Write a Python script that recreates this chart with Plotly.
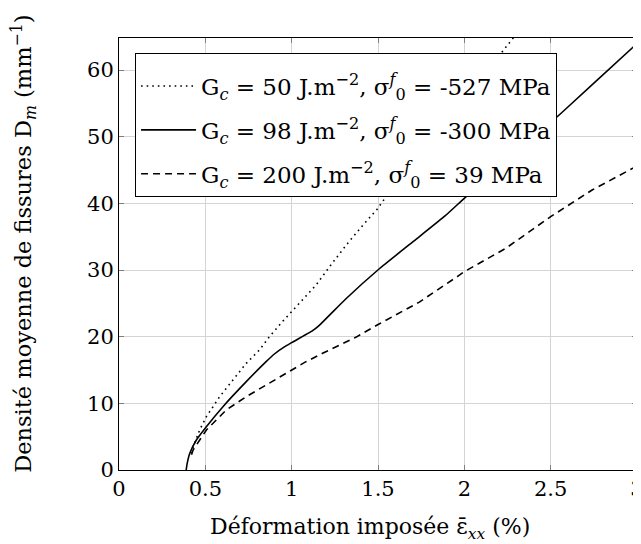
import plotly.graph_objects as go

# Data
x_dot = [0.415, 0.43, 0.467, 0.506, 0.583, 0.66, 0.737, 0.813, 0.871, 0.948, 1.006, 1.063, 1.14, 1.217, 1.313, 1.41, 1.496, 1.544, 1.8, 2.0, 2.27, 2.32]
y_dot = [2.5, 3.5, 6.0, 8.0, 11.0, 13.5, 16.0, 18.0, 20.0, 22.3, 23.9, 25.5, 27.7, 30.4, 33.65, 36.65, 39.15, 40.9, 49.2, 55.7, 64.5, 66.0]

x_sol = [0.389, 0.395, 0.41, 0.448, 0.506, 0.602, 0.737, 0.852, 0.9, 0.96, 1.0, 1.121, 1.16, 1.313, 1.506, 1.698, 1.89, 2.006, 2.562, 2.978, 3.0]
y_sol = [0.0, 1.0, 2.5, 4.5, 6.5, 9.5, 13.25, 16.25, 17.4, 18.5, 19.1, 20.9, 21.7, 25.65, 30.15, 34.15, 38.15, 40.9, 53.55, 63.45, 63.9]

x_dash = [0.42, 0.429, 0.506, 0.621, 0.737, 0.852, 0.987, 1.083, 1.179, 1.237, 1.371, 1.506, 1.737, 1.967, 2.0, 2.24, 2.5, 2.74, 3.0]
y_dash = [2.3, 3.0, 6.0, 9.0, 11.0, 12.75, 14.75, 16.25, 17.5, 18.2, 19.9, 21.9, 25.15, 29.15, 29.75, 33.25, 38.0, 42.0, 45.6]

names = [
    "G<sub><i>c</i></sub> = 50 J.m<sup>−2</sup>, σ<sup><i>f</i></sup><sub>0</sub> = -527 MPa",
    "G<sub><i>c</i></sub> = 98 J.m<sup>−2</sup>, σ<sup><i>f</i></sup><sub>0</sub> = -300 MPa",
    "G<sub><i>c</i></sub> = 200 J.m<sup>−2</sup>, σ<sup><i>f</i></sup><sub>0</sub> = 39 MPa",
]

x_ticks = [0, 0.5, 1, 1.5, 2, 2.5, 3]
x_ticklabels = ["0", "0.5", "1", "1.5", "2", "2.5", "3"]
y_ticks = [0, 10, 20, 30, 40, 50, 60]

FONT = "DejaVu Serif"

fig = go.Figure()
fig.add_trace(go.Scatter(x=x_dot, y=y_dot, mode="lines", name=names[0], legendgroup="a",
                         line=dict(color="black", width=1.6, dash="1.6px,4px")))
fig.add_trace(go.Scatter(x=x_sol, y=y_sol, mode="lines", name=names[1], legendgroup="b",
                         line=dict(color="black", width=1.6, shape="spline", smoothing=0.4)))
fig.add_trace(go.Scatter(x=x_dash, y=y_dash, mode="lines", name=names[2], legendgroup="c",
                         line=dict(color="black", width=1.6, dash="7px,5px")))

axis_common = dict(
    showgrid=True, gridcolor="#d4d4d4", gridwidth=1,
    showline=True, linecolor="black", linewidth=1, mirror="ticks",
    ticks="inside", ticklen=5, tickcolor="#7f7f7f", tickwidth=1,
    zeroline=False, automargin=False, ticklabeloverflow="allow",
    tickfont=dict(family=FONT, size=21, color="black"),
)

fig.update_xaxes(range=[0, 3], tickvals=x_ticks, ticktext=x_ticklabels, **axis_common)
fig.update_yaxes(range=[0, 64.8], tickvals=y_ticks, **axis_common)

# the page body has an 8px margin, so the figure is sized to fit the 641x544 window
fig.update_layout(
    width=633, height=536,
    margin=dict(l=111, r=4, t=30, b=74),
    plot_bgcolor="white", paper_bgcolor="white",
    font=dict(family=FONT, size=22, color="black"),
    showlegend=True,
    legend=dict(x=0.031, y=0.965, xanchor="left", yanchor="top",
                bgcolor="white", bordercolor="black", borderwidth=1,
                tracegroupgap=11, itemwidth=55,
                title=dict(text=" ", font=dict(size=8)),
                font=dict(family=FONT, size=23, color="black")),
    annotations=[
        dict(text="Déformation imposée ε\u0304<sub><i>xx</i></sub> (%)",
             xref="paper", yref="paper", x=0.4836, y=-0.174,
             xanchor="center", yanchor="bottom", showarrow=False,
             font=dict(family=FONT, size=22, color="black")),
        dict(text="Densité moyenne de fissures D<sub><i>m</i></sub> (mm<sup>−1</sup>)",
             xref="paper", yref="paper", x=-0.185, y=0.524,
             xanchor="center", yanchor="middle", showarrow=False, textangle=-90,
             font=dict(family=FONT, size=22.5, color="black")),
    ],
)

fig.write_html("out.html")
